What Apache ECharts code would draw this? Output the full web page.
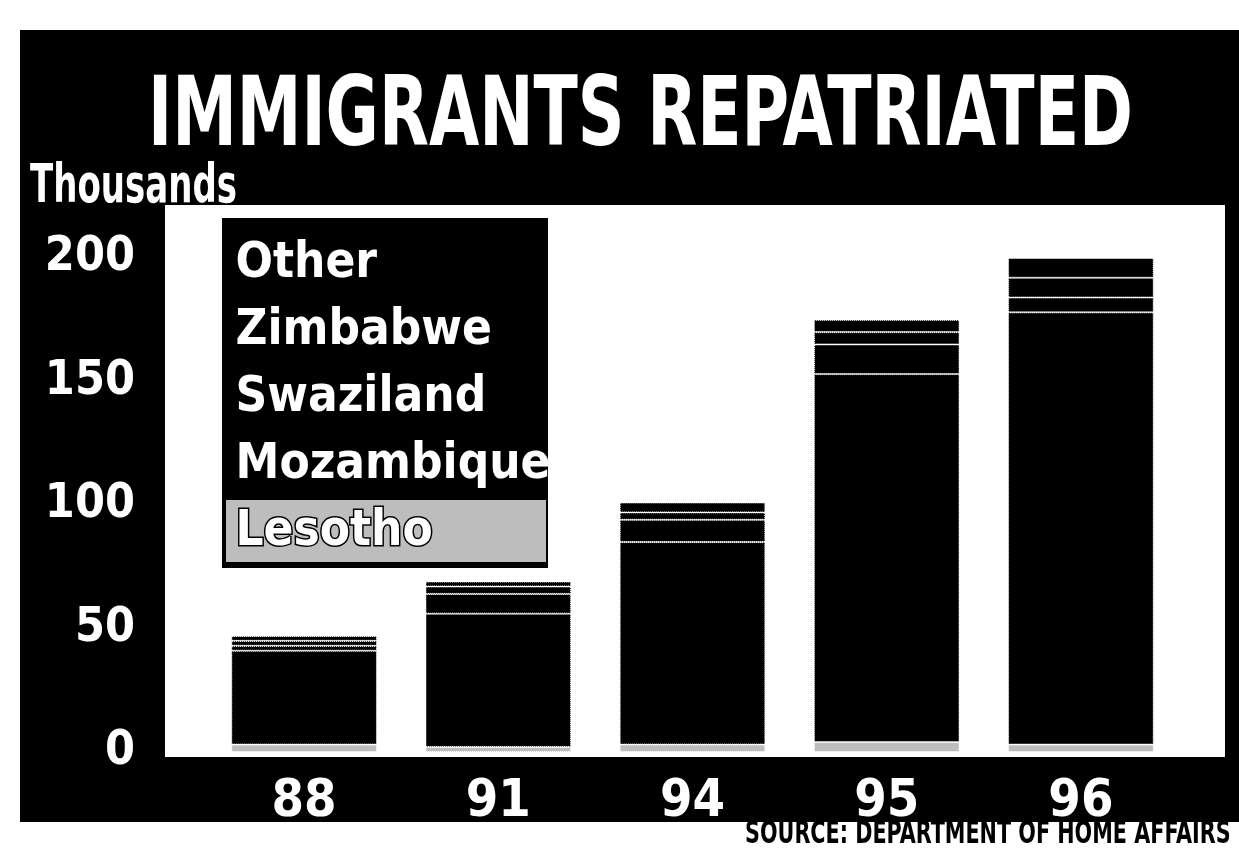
<!DOCTYPE html>
<html><head><meta charset="utf-8">
<script src="https://cdn.jsdelivr.net/npm/echarts@6/dist/echarts.min.js"></script>
<style>html,body{margin:0;padding:0;background:#fff}#c{width:1239px;height:850px}</style>
</head><body><div id="c"></div>
<script>
const years = ['88','91','94','95','96'];
const lesotho    = [3, 2, 3, 4, 3];
const mozambique = [38, 54, 82, 149, 175];
const swaziland  = [2, 8, 9, 12, 6];
const zimbabwe   = [2, 3, 3, 5, 8];
const other      = [2, 2, 4, 5, 8];
const yTicks = [0, 50, 100, 150, 200];
const seriesNames = ['Other','Zimbabwe','Swaziland','Mozambique','Lesotho'];
const titleText = 'IMMIGRANTS REPATRIATED';
const unitText = 'Thousands';
const sourceText = 'SOURCE: DEPARTMENT OF HOME AFFAIRS';

const FONT = '"DejaVu Sans Condensed","Liberation Sans Narrow",sans-serif';
const chart = echarts.init(document.getElementById('c'));
const seg = (name, data, color) => ({
  name, type:'bar', stack:'total', data, barCategoryGap:'25%',
  itemStyle:{color, borderColor:'#fff', borderWidth:1, borderType:'dotted'},
  emphasis:{disabled:true}
});
chart.setOption({
  backgroundColor:'#fff',
  animation:false,
  graphic:[
    {type:'rect', z:-10, shape:{x:20,y:30,width:1219,height:792}, style:{fill:'#000'}},
    {type:'rect', z:-9, shape:{x:165,y:205,width:1060,height:552}, style:{fill:'#fff'}},
    {type:'rect', z:-8, shape:{x:222,y:218,width:326,height:350}, style:{fill:'#000'}},
    {type:'rect', z:-7, shape:{x:226,y:500,width:320,height:62}, style:{fill:'#bdbdbd'}},
    {type:'text', x:148, y:72, scaleX:0.752, z:5,
     style:{text:titleText, fill:'#fff', font:'bold 96px ' + FONT}},
    {type:'text', x:30, y:161, scaleX:0.70, z:5,
     style:{text:unitText, fill:'#fff', font:'bold 54px ' + FONT}},
    {type:'text', x:745, y:819, scaleX:0.72, z:5,
     style:{text:sourceText, fill:'#000', font:'bold 32px ' + FONT}}
  ],
  legend:{
    data:seriesNames.map(n => n === 'Lesotho'
      ? {name:n, textStyle:{color:'#fff', textBorderColor:'#000', textBorderWidth:3}}
      : {name:n}),
    orient:'vertical', left:234, top:234, itemWidth:0, itemHeight:0, icon:'rect',
    itemGap:7, padding:0, selectedMode:false,
    textStyle:{color:'#fff', fontFamily:FONT, fontWeight:'bold', fontSize:49, lineHeight:60, padding:[0,0,0,-6]}
  },
  grid:{left:207, right:61, top:258, bottom:98},
  xAxis:{type:'category', data:years,
    axisLine:{show:false}, axisTick:{show:false},
    axisLabel:{color:'#fff', fontFamily:FONT, fontWeight:'bold', fontSize:52, margin:24}},
  yAxis:{type:'value', min:yTicks[0], max:yTicks[yTicks.length-1], interval:50,
    splitLine:{show:false}, axisLine:{show:false}, axisTick:{show:false},
    axisLabel:{color:'#fff', fontFamily:FONT, fontWeight:'bold', fontSize:48, margin:72}},
  series:[
    seg('Lesotho', lesotho, '#bdbdbd'),
    seg('Mozambique', mozambique, '#000'),
    seg('Swaziland', swaziland, '#000'),
    seg('Zimbabwe', zimbabwe, '#000'),
    seg('Other', other, '#000')
  ]
});
</script></body></html>
